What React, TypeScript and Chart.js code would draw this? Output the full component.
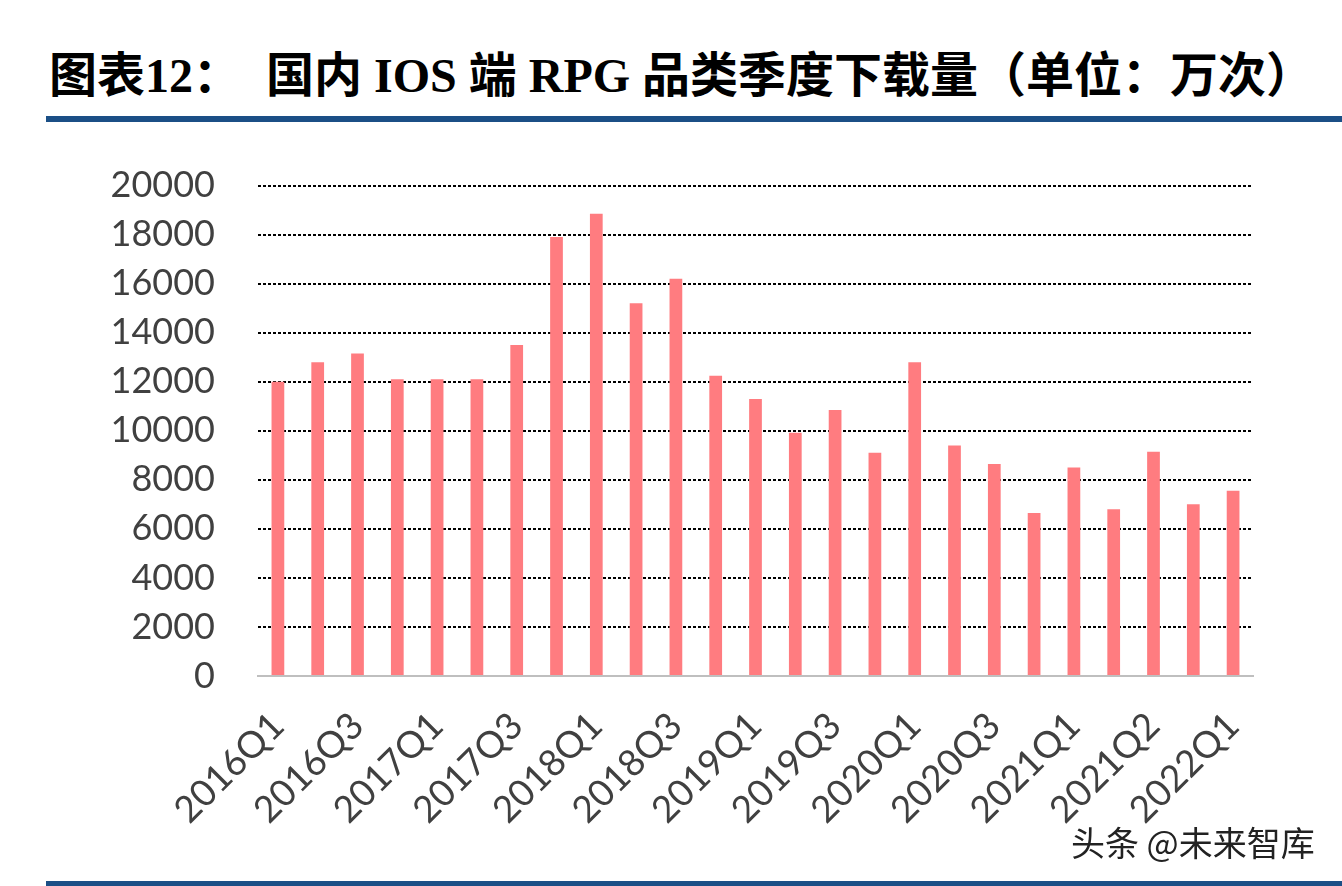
import React, { useEffect, useRef } from "react";
import { Chart, registerables } from "chart.js";

Chart.register(...registerables);

const titlePrefix = "图表12：";
const titleMain = "国内 IOS 端 RPG 品类季度下载量（单位：万次）";
const watermark = "头条 @未来智库";

const categories = [
  "2016Q1", "2016Q2", "2016Q3", "2016Q4",
  "2017Q1", "2017Q2", "2017Q3", "2017Q4",
  "2018Q1", "2018Q2", "2018Q3", "2018Q4",
  "2019Q1", "2019Q2", "2019Q3", "2019Q4",
  "2020Q1", "2020Q2", "2020Q3", "2020Q4",
  "2021Q1", "2021Q2", "2021Q2", "2021Q4",
  "2022Q1",
];

const downloads = [
  12000, 12800, 13150, 12100,
  12100, 12100, 13500, 17900,
  18850, 15200, 16200, 12250,
  11300, 9920, 10850, 9100,
  12800, 9400, 8650, 6650,
  8500, 6800, 9150, 7000,
  7550,
];

const yMin = 0;
const yMax = 20000;
const yStep = 2000;

const BAR_COLOR = "#FF7C80";
const TEXT_COLOR = "#404040";
const BLUE = "#1B4F86";

function BarChart() {
  const ref = useRef<HTMLCanvasElement | null>(null);
  useEffect(() => {
    if (!ref.current) return;
    const chart = new Chart(ref.current, {
      type: "bar",
      data: {
        labels: categories,
        datasets: [
          {
            data: downloads,
            backgroundColor: BAR_COLOR,
            borderWidth: 0,
            categoryPercentage: 0.32,
            barPercentage: 1,
          },
        ],
      },
      options: {
        animation: false,
        responsive: false,
        maintainAspectRatio: false,
        layout: { padding: { top: 25, right: 89, left: 0, bottom: 0 } },
        plugins: {
          legend: { display: false },
          title: { display: false },
          tooltip: { enabled: false },
        },
        scales: {
          x: {
            grid: { display: false, drawTicks: false },
            border: { display: true, color: "#BFBFBF", width: 2 },
            ticks: {
              autoSkip: false,
              minRotation: 45,
              maxRotation: 45,
              padding: 28,
              color: TEXT_COLOR,
              font: { family: "Lato", size: 37 },
              callback: (_v: any, i: number) => (i % 2 === 0 ? categories[i] : ""),
            },
            afterFit: (scale: any) => {
              scale.height = 210;
            },
          },
          y: {
            min: yMin,
            max: yMax,
            border: { display: false, dash: [3, 2] },
            grid: {
              drawTicks: false,
              color: (ctx: any) => (ctx.tick && ctx.tick.value === 0 ? "rgba(0,0,0,0)" : "#000000"),
              lineWidth: 2,
            },
            ticks: {
              stepSize: yStep,
              padding: 43,
              color: TEXT_COLOR,
              font: { family: "Lato", size: 36 },
              callback: (v: any) => String(v),
            },
            afterFit: (scale: any) => {
              scale.width = 258;
            },
          },
        },
      },
    } as any);
    return () => chart.destroy();
  }, []);
  return (
    <canvas
      ref={ref}
      width={1342}
      height={765}
      style={{ position: "absolute", left: 0, top: 121, width: 1342, height: 765 }}
    />
  );
}

const titleStyle: React.CSSProperties = {
  position: "absolute",
  top: 50,
  fontFamily: '"Liberation Serif", "Noto Sans CJK SC", serif',
  fontWeight: 700,
  fontSize: 48,
  lineHeight: "52px",
  color: "#000",
  whiteSpace: "nowrap",
};

export default function App() {
  return (
    <div
      style={{
        position: "absolute",
        left: 0,
        top: 0,
        width: 1342,
        height: 886,
        background: "#ffffff",
        overflow: "hidden",
      }}
    >
      <div style={{ ...titleStyle, left: 49 }}>{titlePrefix}</div>
      <div style={{ ...titleStyle, left: 266 }}>{titleMain}</div>
      <div style={{ position: "absolute", left: 46, top: 116, width: 1296, height: 6, background: BLUE }} />
      <BarChart />
      <div
        style={{
          position: "absolute",
          left: 1071,
          top: 822,
          fontFamily: '"Noto Sans CJK SC", sans-serif',
          fontSize: 34,
          lineHeight: "40px",
          color: "#222",
          whiteSpace: "nowrap",
          textShadow: "0 0 2px #fff, 1px 1px 1px #fff",
        }}
      >
        {watermark}
      </div>
      <div style={{ position: "absolute", left: 46, top: 881, width: 1296, height: 5, background: BLUE }} />
    </div>
  );
}
